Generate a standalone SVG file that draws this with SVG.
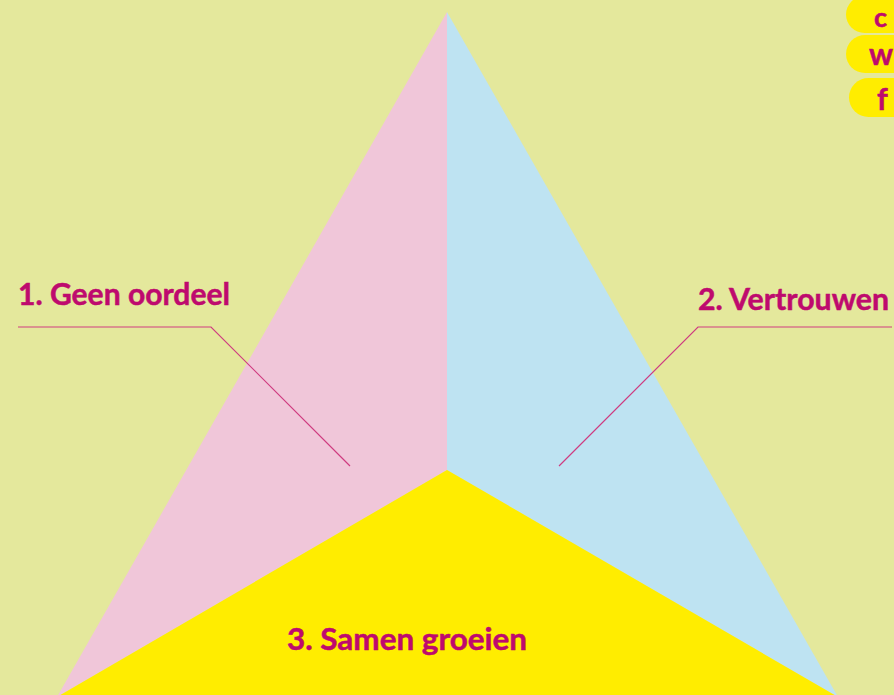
<svg xmlns="http://www.w3.org/2000/svg" width="894" height="695" viewBox="0 0 894 695">
<style>
.lbl{font-family:Lato,"Open Sans","Liberation Sans",sans-serif;font-weight:bold;fill:#BE0A6E;stroke:#BE0A6E;stroke-width:0.5}
.lead{fill:none;stroke:#CF3C80;stroke-width:1.2}
.pill{fill:#FFED00}
</style>
<rect width="894" height="695" fill="#E4E89C"/>
<g id="pyramid">
<polygon id="left-face" points="447,12 447,470 57,697" fill="#F0C6D9"/>
<polygon id="right-face" points="447,12 838,697 447,470" fill="#BEE3F2"/>
<polygon id="bottom-face" points="447,470 838,697 57,697" fill="#FFED00"/>
</g>
<g id="pills">
<rect class="pill" x="846" y="-4" width="70" height="37" rx="18.5"/>
<rect class="pill" x="846" y="35" width="70" height="38" rx="19"/>
<rect class="pill" x="849" y="78" width="70" height="39" rx="19.5"/>
<text class="lbl" x="874" y="27" font-size="27">c</text>
<text class="lbl" x="869" y="65" font-size="30">w</text>
<text class="lbl" x="877" y="110" font-size="30">f</text>
</g>
<g id="connectors">
<polyline class="lead" points="18,327 211,327 350,466"/>
<polyline class="lead" points="892,327 698,327 559,466"/>
</g>
<g id="node1"><text class="lbl" x="18" y="305" font-size="30" textLength="212" lengthAdjust="spacingAndGlyphs">1. Geen oordeel</text></g>
<g id="node2"><text class="lbl" x="698" y="310" font-size="30" textLength="191" lengthAdjust="spacingAndGlyphs">2. Vertrouwen</text></g>
<g id="node3"><text class="lbl" x="287" y="650" font-size="30" textLength="240" lengthAdjust="spacingAndGlyphs">3. Samen groeien</text></g>
</svg>
